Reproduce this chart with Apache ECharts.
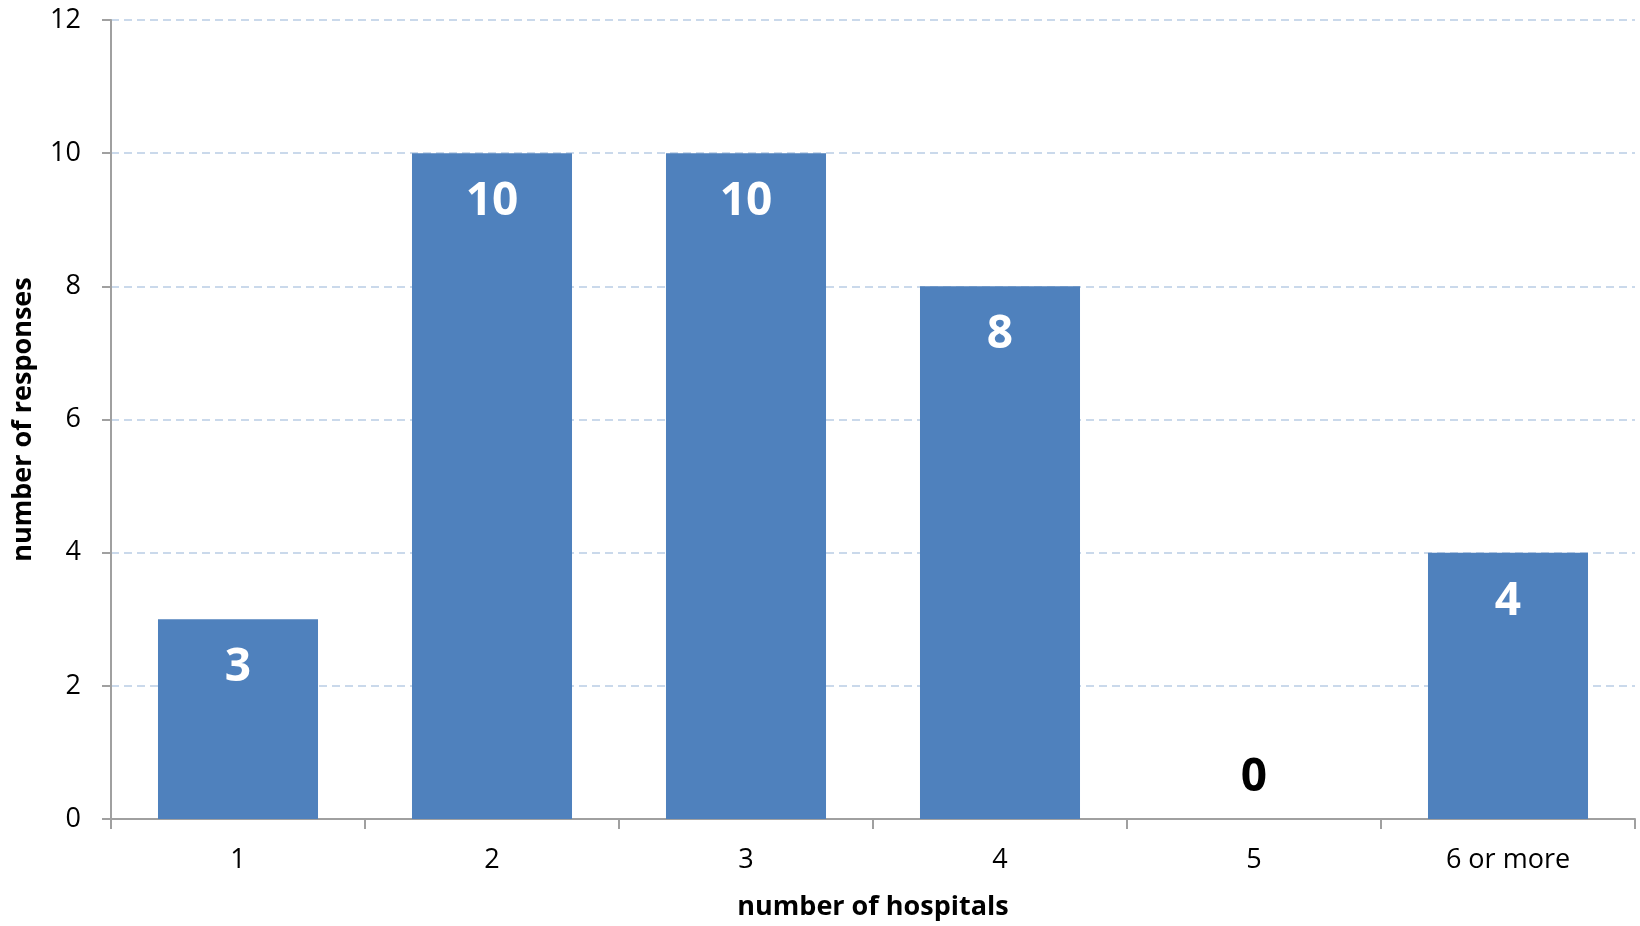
<!DOCTYPE html>
<html><head><meta charset="utf-8">
<script src="https://cdn.jsdelivr.net/npm/echarts@6/dist/echarts.min.js"></script>
<style>html,body{margin:0;padding:0;background:#fff}#c{width:1640px;height:926px}</style>
</head><body><div id="c"></div>
<script>
const categories = ['1','2','3','4','5','6 or more'];
const responses = [3,10,10,8,0,4];
const yTicks = [0,2,4,6,8,10,12];

const FONT = '"Open Sans", "DejaVu Sans", sans-serif';
const chart = echarts.init(document.getElementById('c'));
chart.setOption({
  animation:false,
  textStyle:{fontFamily:FONT},
  grid:{left:111,right:5,top:20,bottom:103},
  xAxis:{
    type:'category',data:categories,
    name:'number of hospitals',nameLocation:'middle',nameGap:75,
    nameTextStyle:{fontSize:27,fontWeight:'bold',color:'#000',fontFamily:FONT},
    axisLine:{lineStyle:{color:'#A0A0A0',width:2}},
    axisTick:{show:true,length:10,lineStyle:{color:'#A0A0A0',width:2},alignWithLabel:false},
    axisLabel:{fontSize:27,color:'#000',margin:28,fontFamily:FONT}
  },
  yAxis:{
    type:'value',min:yTicks[0],max:yTicks[yTicks.length-1],interval:2,
    name:'number of responses',nameLocation:'middle',nameGap:74,
    nameTextStyle:{fontSize:27,fontWeight:'bold',color:'#000',fontFamily:FONT},
    axisLine:{show:true,lineStyle:{color:'#A0A0A0',width:2}},
    axisTick:{show:true,length:9,lineStyle:{color:'#A0A0A0',width:2}},
    axisLabel:{fontSize:27,color:'#000',margin:30,fontFamily:FONT},
    splitLine:{lineStyle:{color:'#B9CDE5',type:[8,5],width:1.5}}
  },
  series:[{
    type:'bar',barCategoryGap:'37%',
    data:responses.map(v=> v===0 ? {value:v,label:{position:'top',color:'#000',distance:18}} : v),
    itemStyle:{color:'#4F81BD'},
    label:{show:true,position:'insideTop',distance:26,color:'#fff',fontSize:46,fontWeight:'bold',fontFamily:FONT}
  }]
});
</script></body></html>
